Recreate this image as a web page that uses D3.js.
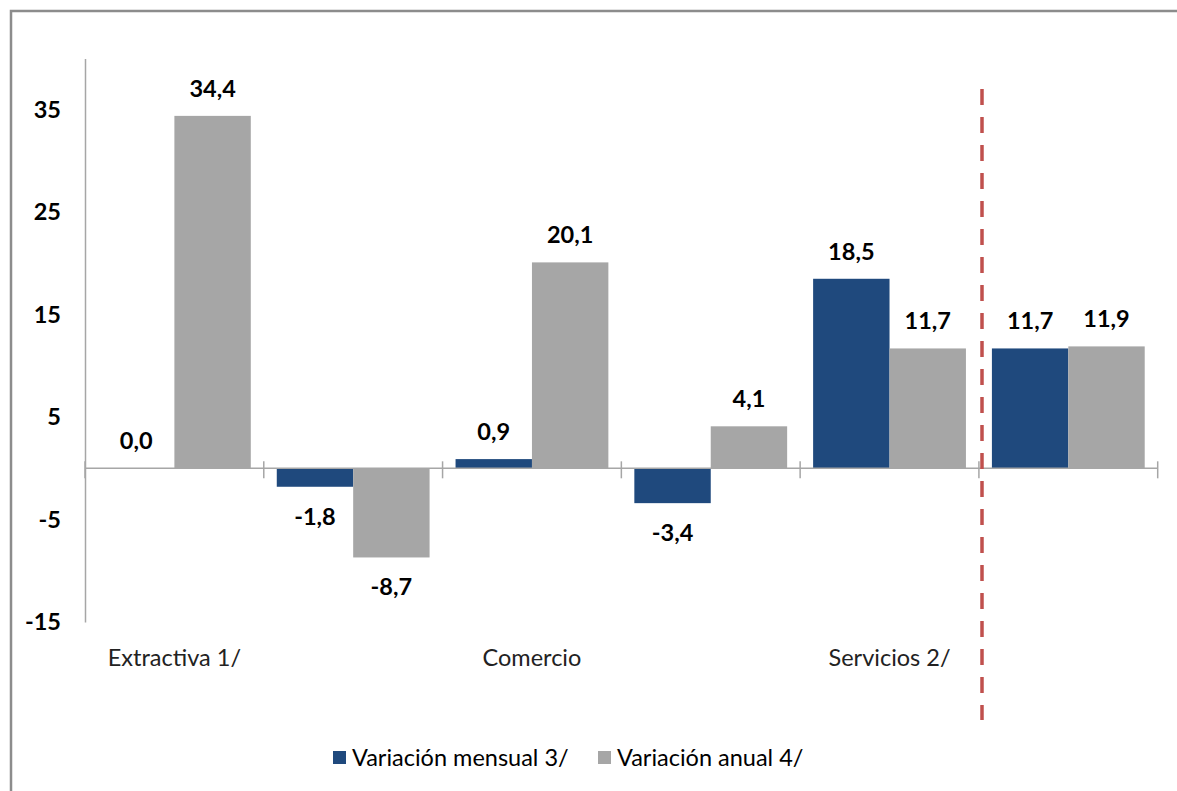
<!DOCTYPE html>
<html>
<head>
<meta charset="utf-8">
<script src="https://cdn.jsdelivr.net/npm/d3@7"></script>
<style>
  body { margin: 0; background: #fff; }
  svg { display: block; }
  text { font-family: Lato, "Open Sans", sans-serif; }
</style>
</head>
<body>
<svg id="chart"></svg>
<script>
// data
const categories = ["Extractiva 1/", "", "Comercio", "", "Servicios 2/", ""];
const seriesNames = ["Variación mensual 3/", "Variación anual 4/"];
const mensual = [0.0, -1.8, 0.9, -3.4, 18.5, 11.7];
const anual = [34.4, -8.7, 20.1, 4.1, 11.7, 11.9];
const yTicks = [-15, -5, 5, 15, 25, 35];

const width = 1177;
const height = 791;
const colors = ["#1f497d", "#a6a6a6"];

const svg = d3.select("#chart")
    .attr("width", width)
    .attr("height", height);

// frame
svg.append("path")
    .attr("d", "M11,791 V11 H1177")
    .attr("fill", "none")
    .attr("stroke", "#8c8c8c")
    .attr("stroke-width", 2.5);

const y = d3.scaleLinear().domain([-15, 40]).range([622, 58.5]);

const x0 = d3.scaleBand()
    .domain(d3.range(categories.length))
    .range([85, 1157.7])
    .padding(0);

const x1 = d3.scaleBand()
    .domain(d3.range(seriesNames.length))
    .range([0, x0.bandwidth()])
    .paddingInner(0)
    .paddingOuter(0.17);

const rows = categories.map((c, i) => ({ i, values: [mensual[i], anual[i]] }));

// bars
const groups = svg.selectAll(".cat")
    .data(rows)
    .enter().append("g")
    .attr("class", "cat")
    .attr("transform", d => `translate(${x0(d.i)},0)`);

groups.selectAll("rect")
    .data(d => d.values.map((v, s) => ({ v, s })))
    .enter().append("rect")
    .attr("x", d => x1(d.s))
    .attr("width", x1.bandwidth())
    .attr("y", d => y(Math.max(0, d.v)))
    .attr("height", d => Math.abs(y(d.v) - y(0)))
    .attr("fill", d => colors[d.s]);

// value labels
groups.selectAll(".lbl")
    .data(d => d.values.map((v, s) => ({ v, s })))
    .enter().append("text")
    .attr("class", "lbl")
    .attr("x", d => x1(d.s) + x1.bandwidth() / 2)
    .attr("y", d => d.v >= 0 ? y(d.v) - 19 : y(d.v) + 38)
    .attr("text-anchor", "middle")
    .style("font-size", "23.5px")
    .style("font-weight", "bold")
    .style("fill", "#000")
    .text(d => d.v.toFixed(1).replace(".", ","));

// y axis
const yAxis = svg.append("g")
    .attr("transform", "translate(85,0)")
    .call(d3.axisLeft(y).tickValues(yTicks).tickSize(0).tickPadding(24).tickFormat(d => String(d)));
yAxis.select(".domain").attr("stroke", "#a6a6a6").attr("stroke-width", 1.5);
yAxis.selectAll("text")
    .style("font-family", "Lato, sans-serif")
    .style("font-size", "23.5px")
    .style("font-weight", "bold")
    .style("fill", "#000");

// x axis at zero
const bounds = d3.range(categories.length + 1).map(i => i < categories.length ? x0(i) : x0.range()[1]);
svg.append("line")
    .attr("x1", 85).attr("x2", x0.range()[1])
    .attr("y1", y(0)).attr("y2", y(0))
    .attr("stroke", "#a6a6a6").attr("stroke-width", 1.5);
svg.selectAll(".xtick")
    .data(bounds)
    .enter().append("line")
    .attr("class", "xtick")
    .attr("x1", d => d).attr("x2", d => d)
    .attr("y1", y(0) - 7).attr("y2", y(0) + 10)
    .attr("stroke", "#a6a6a6").attr("stroke-width", 1.5);

svg.selectAll(".xlabel")
    .data(categories)
    .enter().append("text")
    .attr("class", "xlabel")
    .attr("x", (d, i) => x0(i) + x0.bandwidth() / 2)
    .attr("y", 666)
    .attr("text-anchor", "middle")
    .style("font-size", "23.5px")
    .style("fill", "#222")
    .text(d => d);

// dashed separator
svg.append("line")
    .attr("x1", 982).attr("x2", 982)
    .attr("y1", 89).attr("y2", 720)
    .attr("stroke", "#c0504d")
    .attr("stroke-width", 3.5)
    .attr("stroke-dasharray", "16,12");

// legend
const legendX = [333, 598];
const legend = svg.selectAll(".leg")
    .data(seriesNames)
    .enter().append("g")
    .attr("class", "leg")
    .attr("transform", (d, i) => `translate(${legendX[i]},751)`);
legend.append("rect")
    .attr("width", 13).attr("height", 13)
    .attr("fill", (d, i) => colors[i]);
legend.append("text")
    .attr("x", 19)
    .attr("y", 15)
    .style("font-size", "23.5px")
    .style("fill", "#000")
    .text(d => d);
</script>
</body>
</html>
